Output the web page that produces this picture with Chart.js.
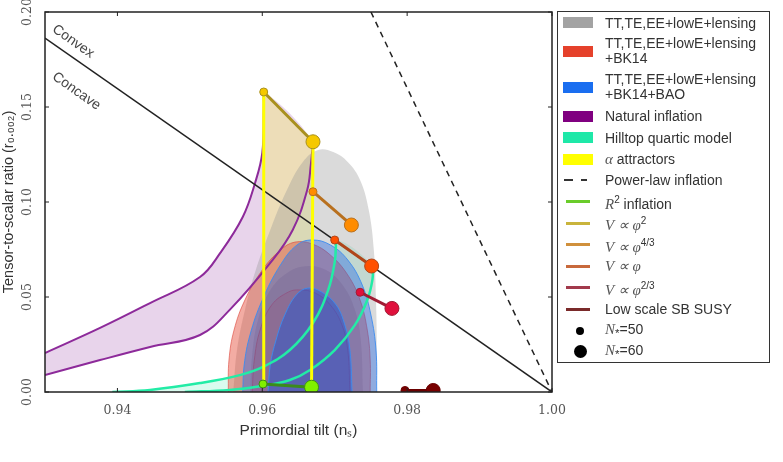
<!DOCTYPE html>
<html>
<head>
<meta charset="utf-8">
<script src="https://cdn.jsdelivr.net/npm/chart.js@4"></script>
<style>
body { margin: 0; background: #fff; }
#wrap { position: relative; width: 783px; height: 462px; }
#legend { position: absolute; left: 557px; top: 11px; width: 213px; height: 352px; border: 1.5px solid #333; box-sizing: border-box;
  font-family: 'Liberation Sans', sans-serif; font-size: 14px; color: #333; padding-top: 0px; }
.row { position: relative; height: 21.45px; }
.row.two { height: 36px; }
.mk { position: absolute; }
.tx { position: absolute; left: 47px; top: 50%; transform: translateY(-50%); line-height: 15px; white-space: nowrap; }
.m { font-family: 'Liberation Serif', serif; font-style: italic; color: #555; font-size: 15px; }
sup { font-size: 10px; }
</style>
</head>
<body>
<div id="wrap">
  <canvas id="nsr" width="783" height="462"></canvas>
  <div id="legend"></div>
</div>
<script>
// axis ticks
const xTicks = [0.94, 0.96, 0.98, 1.00];
const yTicks = [0.00, 0.05, 0.10, 0.15, 0.20];

// reference lines
const boundaryLine = [[0.930, 0.1863], [1.000, 0.0]];
const powerLaw = [[0.975, 0.200], [1.000, 0.0]];

// Planck contours (r = 0 closes them)
const grayOuter = [[0.9560,0],[0.9565,0.0221],[0.9576,0.0432],[0.9591,0.0642],[0.9611,0.0853],[0.9634,0.1063],[0.9656,0.1211],
  [0.9677,0.1274],[0.9698,0.1263],[0.9718,0.1211],[0.9735,0.1116],[0.9747,0.0958],[0.9754,0.0747],[0.9757,0.0484],[0.9758,0.0221],[0.9757,0]];
const grayInner = [[0.9583,0],[0.9586,0.0195],[0.9594,0.0379],[0.9611,0.0537],[0.9636,0.0632],[0.9663,0.0663],[0.9688,0.0642],
  [0.9711,0.0563],[0.9728,0.0432],[0.9736,0.0274],[0.9739,0]];
const redOuter = [[0.9553,0],[0.9554,0.0168],[0.9561,0.0326],[0.9576,0.0484],[0.9600,0.0642],[0.9625,0.0747],[0.9645,0.0789],
  [0.9669,0.0779],[0.9694,0.0721],[0.9718,0.0616],[0.9735,0.0484],[0.9745,0.0326],[0.9749,0.0168],[0.9749,0]];
const redInner = [[0.9586,0],[0.9589,0.0168],[0.9597,0.0326],[0.9613,0.0458],[0.9636,0.0526],[0.9652,0.0537],[0.9673,0.0521],
  [0.9694,0.0458],[0.9710,0.0353],[0.9718,0.0221],[0.9721,0]];
const blueOuter = [[0.9573,0],[0.9575,0.0142],[0.9583,0.0300],[0.9600,0.0484],[0.9625,0.0668],[0.9648,0.0774],[0.9669,0.0800],
  [0.9694,0.0774],[0.9718,0.0695],[0.9738,0.0563],[0.9750,0.0405],[0.9757,0.0221],[0.9758,0]];
const blueInner = [[0.9608,0],[0.9611,0.0142],[0.9619,0.0274],[0.9631,0.0405],[0.9647,0.0511],[0.9663,0.0547],[0.9682,0.0526],
  [0.9702,0.0458],[0.9714,0.0353],[0.9721,0.0221],[0.9724,0]];

// model curves
const naturalN50 = [[0.9300,0.0205],[0.9376,0.0337],[0.9445,0.0468],[0.9514,0.0605],[0.9542,0.0732],[0.9573,0.0921],
  [0.9590,0.1100],[0.9600,0.1258],[0.9602,0.1484],[0.9602,0.1579]];
const naturalN60 = [[0.9300,0.0089],[0.9376,0.0168],[0.9445,0.0237],[0.9514,0.0300],[0.9555,0.0432],[0.9611,0.0679],
  [0.9642,0.0853],[0.9662,0.1063],[0.9667,0.1195],[0.9670,0.1316]];
const hilltopN50 = [[0.9393,0],[0.9445,0.0011],[0.9514,0.0047],[0.9569,0.0089],[0.9601,0.0132],[0.9638,0.0221],
  [0.9670,0.0363],[0.9691,0.0537],[0.9700,0.0684],[0.9702,0.0800]];
const hilltopN60 = [[0.9493,0],[0.9555,0.0011],[0.9600,0.0032],[0.9638,0.0063],[0.9666,0.0116],[0.9700,0.0221],
  [0.9728,0.0353],[0.9745,0.0484],[0.9752,0.0589],[0.9753,0.0663]];
const alphaN50 = [[0.9601,0.0042],[0.9602,0.1579]];
const alphaN60 = [[0.9668,0.0025],[0.9670,0.1317]];

// N*=50, N*=60 predictions
const phi2 = [[0.9602,0.1579],[0.9670,0.1317]];
const phi43 = [[0.9670,0.1054],[0.9723,0.0879]];
const phi1 = [[0.9700,0.0800],[0.9751,0.0663]];
const phi23 = [[0.9735,0.0525],[0.9779,0.0440]];
const r2 = [[0.9601,0.0042],[0.9668,0.0025]];
const susy = [[0.9797,0.0008],[0.9836,0.0008]];

const notes = [['Convex', 0.9309, 0.1900], ['Concave', 0.9309, 0.1650]];

const legendLabels = ['TT,TE,EE+lowE+lensing', 'TT,TE,EE+lowE+lensing<br>+BK14', 'TT,TE,EE+lowE+lensing<br>+BK14+BAO',
  'Natural inflation', 'Hilltop quartic model', '<span class="m">α</span> attractors', 'Power-law inflation',
  '<span class="m">R</span><sup>2</sup> inflation', '<span class="m">V ∝ φ</span><sup>2</sup>', '<span class="m">V ∝ φ</span><sup>4/3</sup>',
  '<span class="m">V ∝ φ</span>', '<span class="m">V ∝ φ</span><sup>2/3</sup>', 'Low scale SB SUSY',
  '<span class="m">N</span><sub>*</sub>=50', '<span class="m">N</span><sub>*</sub>=60'];
const legendColors = ['#a3a3a3', '#e5412b', '#1a6ef0', '#800080', '#1ee8a8', '#ffff00', '#333',
  '#6acc2a', '#c9b43c', '#d0903c', '#c8693c', '#a23a4c', '#7a2a2a', '#000', '#000'];
const legendKinds = ['box','box','box','box','box','box','dash','line','line','line','line','line','line','dot','dot'];

const pts = a => a.map(([x, y]) => ({ x, y }));
const loop = (a, b) => pts([...a, ...b.slice().reverse()]);

function shape(data, bg, edge, order) {
  return { data: pts(data), backgroundColor: bg, borderColor: edge, borderWidth: edge ? 1 : 0,
    fill: 'shape', tension: 0.4, pointRadius: 0, order };
}
function curve(data, color, width, order, extra) {
  return Object.assign({ data: pts(data), borderColor: color, borderWidth: width, fill: false, tension: 0.4,
    pointRadius: 0, order }, extra || {});
}
function model(data, line, dot, order) {
  return { data: pts(data), borderColor: line, borderWidth: 3, fill: false, tension: 0,
    pointRadius: [4, 7], pointBackgroundColor: dot, pointBorderColor: line, pointBorderWidth: 1, order };
}

const datasets = [
  shape(grayOuter, 'rgba(150,150,150,0.35)', null, 30),
  shape(grayInner, 'rgba(120,120,120,0.30)', null, 29),
  shape(redOuter, 'rgba(228,72,52,0.45)', 'rgba(220,70,60,0.6)', 28),
  shape(redInner, 'rgba(228,72,52,0.30)', 'rgba(220,70,60,0.8)', 27),
  shape(blueOuter, 'rgba(30,100,230,0.40)', 'rgba(60,140,240,0.9)', 26),
  shape(blueInner, 'rgba(20,80,220,0.42)', 'rgba(60,140,240,0.9)', 25),
  { data: loop(naturalN50, naturalN60), backgroundColor: 'rgba(150,60,165,0.22)', borderWidth: 0, fill: 'shape', tension: 0.4, pointRadius: 0, order: 33 },
  { data: loop(hilltopN50, hilltopN60), backgroundColor: 'rgba(0,230,150,0.15)', borderWidth: 0, fill: 'shape', tension: 0.4, pointRadius: 0, order: 32 },
  { data: loop(alphaN50, alphaN60), backgroundColor: 'rgba(255,250,0,0.22)', borderWidth: 0, fill: 'shape', tension: 0, pointRadius: 0, order: 31 },
  curve(naturalN50, '#8d2a9a', 2, 6),
  curve(naturalN60, '#8d2a9a', 2, 6),
  curve(hilltopN50, '#22eca6', 2.5, 5),
  curve(hilltopN60, '#22eca6', 2.5, 5),
  curve(boundaryLine, '#222', 1.5, 4, { tension: 0 }),
  curve(powerLaw, '#222', 1.5, 4, { tension: 0, borderDash: [6, 5] }),
  curve(alphaN50, '#ffff00', 3, 3, { tension: 0 }),
  curve(alphaN60, '#ffff00', 3, 3, { tension: 0 }),
  model(phi2, '#a8901e', '#f5c800', 1),
  model(phi43, '#b8701e', '#ff8c00', 1),
  model(phi1, '#b0461a', '#ff5000', 1),
  model(phi23, '#a01c34', '#e0103c', 1),
  model(r2, '#3c8a1c', '#80f000', 1),
  model(susy, '#6a0000', '#780000', 1)
];

const framePlugin = {
  id: 'frame',
  afterDatasetsDraw(chart) {
    const { ctx, chartArea: a, scales: { x, y } } = chart;
    ctx.save();
    ctx.strokeStyle = '#222';
    ctx.lineWidth = 1.5;
    ctx.strokeRect(a.left, a.top, a.right - a.left, a.bottom - a.top);
    ctx.lineWidth = 1;
    ctx.beginPath();
    xTicks.forEach(v => {
      const p = x.getPixelForValue(v);
      ctx.moveTo(p, a.bottom); ctx.lineTo(p, a.bottom - 4);
      ctx.moveTo(p, a.top); ctx.lineTo(p, a.top + 4);
    });
    yTicks.forEach(v => {
      const p = y.getPixelForValue(v);
      ctx.moveTo(a.left, p); ctx.lineTo(a.left + 4, p);
      ctx.moveTo(a.right, p); ctx.lineTo(a.right - 4, p);
    });
    ctx.stroke();
    // y tick labels, rotated
    ctx.fillStyle = '#555';
    ctx.font = "12.5px 'DejaVu Serif'";
    ctx.textAlign = 'center';
    ctx.textBaseline = 'middle';
    yTicks.forEach(v => {
      ctx.save();
      ctx.translate(28, y.getPixelForValue(v));
      ctx.rotate(-Math.PI / 2);
      ctx.fillText(v.toFixed(2), 0, 0);
      ctx.restore();
    });
    // convex / concave notes along the boundary line
    const ang = Math.atan2(y.getPixelForValue(boundaryLine[1][1]) - y.getPixelForValue(boundaryLine[0][1]),
      x.getPixelForValue(boundaryLine[1][0]) - x.getPixelForValue(boundaryLine[0][0]));
    ctx.fillStyle = '#444';
    ctx.font = "14px 'Liberation Sans'";
    ctx.textAlign = 'left';
    ctx.textBaseline = 'alphabetic';
    notes.forEach(([t, nx, ny]) => {
      ctx.save();
      ctx.translate(x.getPixelForValue(nx), y.getPixelForValue(ny));
      ctx.rotate(ang);
      ctx.fillText(t, 0, 0);
      ctx.restore();
    });
    ctx.restore();
  }
};

new Chart(document.getElementById('nsr'), {
  type: 'line',
  data: { datasets },
  options: {
    responsive: false,
    animation: false,
    layout: { padding: { top: 12, right: 231, bottom: 20, left: 0 } },
    plugins: { legend: { display: false }, tooltip: { enabled: false } },
    scales: {
      x: {
        type: 'linear', min: 0.93, max: 1.0,
        grid: { display: false, drawTicks: false }, border: { display: false },
        afterBuildTicks: s => { s.ticks = xTicks.map(v => ({ value: v })); },
        afterFit: s => { s.height = 50; },
        ticks: { padding: 11, color: '#555', font: { family: 'DejaVu Serif', size: 12.5 }, callback: v => v.toFixed(2) },
        title: { display: true, text: 'Primordial tilt (nₛ)', color: '#333', font: { family: 'Liberation Sans', size: 15.5 }, padding: { top: 2, bottom: 2 } }
      },
      y: {
        type: 'linear', min: 0, max: 0.2,
        grid: { display: false, drawTicks: false }, border: { display: false },
        afterBuildTicks: s => { s.ticks = yTicks.map(v => ({ value: v })); },
        afterFit: s => { s.width = 45; },
        ticks: { display: false },
        title: { display: true, text: 'Tensor-to-scalar ratio (r₀.₀₀₂)', color: '#333', font: { family: 'Liberation Sans', size: 14.5 }, padding: 0 }
      }
    }
  },
  plugins: [framePlugin]
});

// legend panel
const leg = document.getElementById('legend');
legendLabels.forEach((lab, i) => {
  const row = document.createElement('div');
  row.className = 'row' + (lab.includes('<br>') ? ' two' : '');
  const c = legendColors[i];
  let mk = '';
  if (legendKinds[i] === 'box') mk = `<div class="mk" style="left:5px;top:50%;margin-top:-5.5px;width:30px;height:11px;background:${c}"></div>`;
  else if (legendKinds[i] === 'line') mk = `<div class="mk" style="left:8px;top:50%;margin-top:-1.5px;width:24px;height:3px;background:${c}"></div>`;
  else if (legendKinds[i] === 'dash') mk = `<div class="mk" style="left:6px;top:50%;margin-top:-1px;width:9px;height:1.5px;background:${c}"></div>` +
    `<div class="mk" style="left:23px;top:50%;margin-top:-1px;width:6px;height:1.5px;background:${c}"></div>`;
  else {
    const d = i === legendKinds.length - 1 ? 13 : 8;
    mk = `<div class="mk" style="left:${22 - d / 2}px;top:50%;margin-top:${-d / 2}px;width:${d}px;height:${d}px;border-radius:50%;background:${c}"></div>`;
  }
  row.innerHTML = mk + `<div class="tx">${lab}</div>`;
  leg.appendChild(row);
});
</script>
</body>
</html>
